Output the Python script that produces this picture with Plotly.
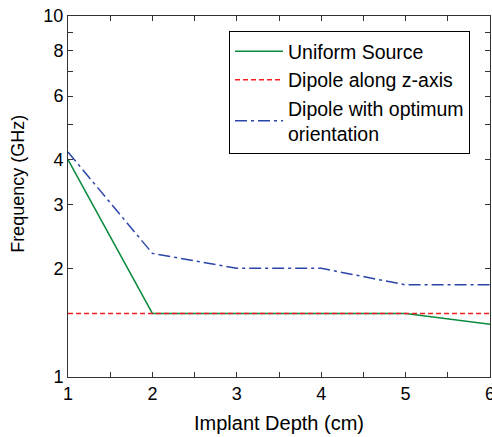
import plotly.graph_objects as go

depth = [1, 2, 3, 4, 5, 6]
uniform = [4.0, 1.5, 1.5, 1.5, 1.5, 1.4]
dipole_z = [1.5, 1.5, 1.5, 1.5, 1.5, 1.5]
dipole_opt = [4.2, 2.2, 2.0, 2.0, 1.8, 1.8]

y_tickvals = [1, 2, 3, 4, 5, 6, 7, 8, 9, 10]
y_ticktext = ["1", "2", "3", "4", "", "6", "", "8", "", "10"]
x_tickvals = [1, 2, 3, 4, 5, 6]
x_minor = [1.5, 2.5, 3.5, 4.5, 5.5]

font = "Liberation Sans, Arial, sans-serif"

fig = go.Figure()
fig.add_trace(go.Scatter(x=depth, y=uniform, mode="lines", name="Uniform Source",
                         line=dict(color="#0b8a3e", width=1.5)))
fig.add_trace(go.Scatter(x=depth, y=dipole_z, mode="lines", name="Dipole along z-axis",
                         line=dict(color="#f02020", width=1.5, dash="5px,3px")))
fig.add_trace(go.Scatter(x=depth, y=dipole_opt, mode="lines",
                         name="Dipole with optimum<br>orientation",
                         line=dict(color="#2b46a8", width=1.5, dash="12px,4px,3px,4px")))

fig.update_layout(
    width=492, height=437,
    margin=dict(l=68, r=2, t=16, b=60, autoexpand=False),
    paper_bgcolor="white", plot_bgcolor="white",
    font=dict(family=font, size=18, color="black"),
    showlegend=True,
    legend=dict(x=0.3815, y=0.958, xanchor="left", yanchor="top",
                bordercolor="black", borderwidth=1, bgcolor="white",
                font=dict(size=19.5), tracegroupgap=0, itemwidth=48),
    xaxis=dict(range=[1, 6], tickvals=x_tickvals, ticks="inside", ticklen=5,
               showline=True, linecolor="#333", linewidth=1, mirror="ticks",
               showgrid=False, zeroline=False, automargin=False,
               ticklabeloverflow="allow", tickfont=dict(size=18),
               minor=dict(tickvals=x_minor, ticks="inside", ticklen=5, tickcolor="#333"),
               tickcolor="#333",
               title=dict(text="Implant Depth (cm)", standoff=13, font=dict(size=20))),
    yaxis=dict(type="log", range=[0, 1], tickvals=y_tickvals, ticktext=y_ticktext,
               ticks="inside", ticklen=5, tickcolor="#333",
               showline=True, linecolor="#333", linewidth=1, mirror="ticks",
               showgrid=False, zeroline=False, automargin=False,
               ticklabeloverflow="allow", tickfont=dict(size=18)),
    annotations=[dict(text="Frequency (GHz)", textangle=-90, showarrow=False,
                      xref="paper", yref="paper", x=0, y=0.535, xshift=-50,
                      xanchor="center", yanchor="middle", font=dict(size=18))],
)

fig.write_html("out.html", config={"displayModeBar": False},
               post_script="document.body.style.margin='0';")
